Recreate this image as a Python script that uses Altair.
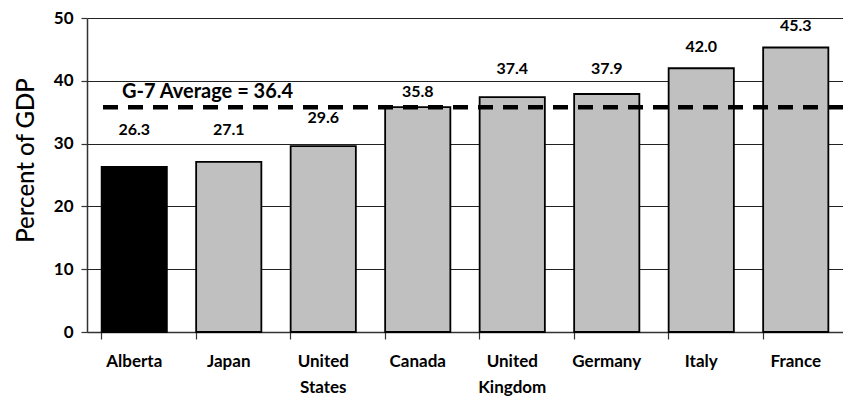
import altair as alt
import pandas as pd

countries = ["Alberta", "Japan", "United States", "Canada", "United Kingdom", "Germany", "Italy", "France"]
values = [26.3, 27.1, 29.6, 35.8, 37.4, 37.9, 42.0, 45.3]
labels = ["26.3", "27.1", "29.6", "35.8", "37.4", "37.9", "42.0", "45.3"]
highlight = [True, False, False, False, False, False, False, False]
avg_text = "G-7 Average = 36.4"
avg_line = 35.8
y_ticks = [0, 10, 20, 30, 40, 50]

# label heights (data units) as placed in the original
label_pos = [32.2, 32.2, 34.1, 38.2, 41.9, 41.9, 45.4, 48.7]

df = pd.DataFrame({"country": countries, "value": values, "label": labels,
                   "hl": highlight, "lpos": label_pos})

FONT = "Lato"
x = alt.X("country:N", sort=countries, title=None,
          scale=alt.Scale(paddingInner=0.31, paddingOuter=0.155),
          axis=alt.Axis(labelExpr="split(datum.label, ' ')", labelAngle=0,
                        labelFont=FONT, labelFontWeight="bold", labelFontSize=17,
                        labelColor="black", labelPadding=14, labelLineHeight=26,
                        bandPosition=0, tickSize=7, tickColor="#333", tickWidth=1.2,
                        domainColor="#333", domainWidth=1.5, grid=False))
y = alt.Y("value:Q", title="Percent of GDP",
          scale=alt.Scale(domain=[0, 50], nice=False),
          axis=alt.Axis(values=y_ticks, labelFont=FONT, labelFontWeight="bold",
                        labelFontSize=17, labelColor="black", labelPadding=8,
                        tickSize=6, tickColor="#333", tickWidth=1.2,
                        domainColor="#333", domainWidth=1.5,
                        grid=True, gridColor="#222", gridWidth=1,
                        titleFont=FONT, titleFontSize=24, titleFontWeight=500,
                        titleColor="black", titleX=-54, titleY=142,
                        titleBaseline="alphabetic"))

bars = alt.Chart(df).mark_bar(stroke="black", strokeWidth=1.8).encode(
    x=x, y=y,
    color=alt.Color("hl:N", scale=alt.Scale(domain=[True, False], range=["#000000", "#c0c0c0"]), legend=None),
)

text = alt.Chart(df).mark_text(font=FONT, fontWeight="bold", fontSize=16, color="black").encode(
    x=alt.X("country:N", sort=countries), y=alt.Y("lpos:Q"), text="label:N")

rule = alt.Chart(pd.DataFrame({"v": [avg_line]})).mark_rule(
    color="black", strokeWidth=4.5, strokeDash=[15, 10]).encode(
    y=alt.Y("v:Q"), x=alt.value(16), x2=alt.value(756))

avg = alt.Chart(pd.DataFrame({"v": [avg_line], "t": [avg_text]})).mark_text(
    font=FONT, fontSize=20, fontWeight="bold", color="black", align="left", baseline="middle", dy=-15).encode(
    y=alt.Y("v:Q"), x=alt.value(35), text="t:N")

chart = alt.layer(bars, rule, text, avg).properties(
    width=756, height=314,
    autosize=alt.AutoSizeParams(type="none"),
    padding={"left": 87, "top": 18, "right": 0, "bottom": 66},
).configure_view(stroke=None)

chart.save("out.html", embed_options={"renderer": "svg", "actions": False})
